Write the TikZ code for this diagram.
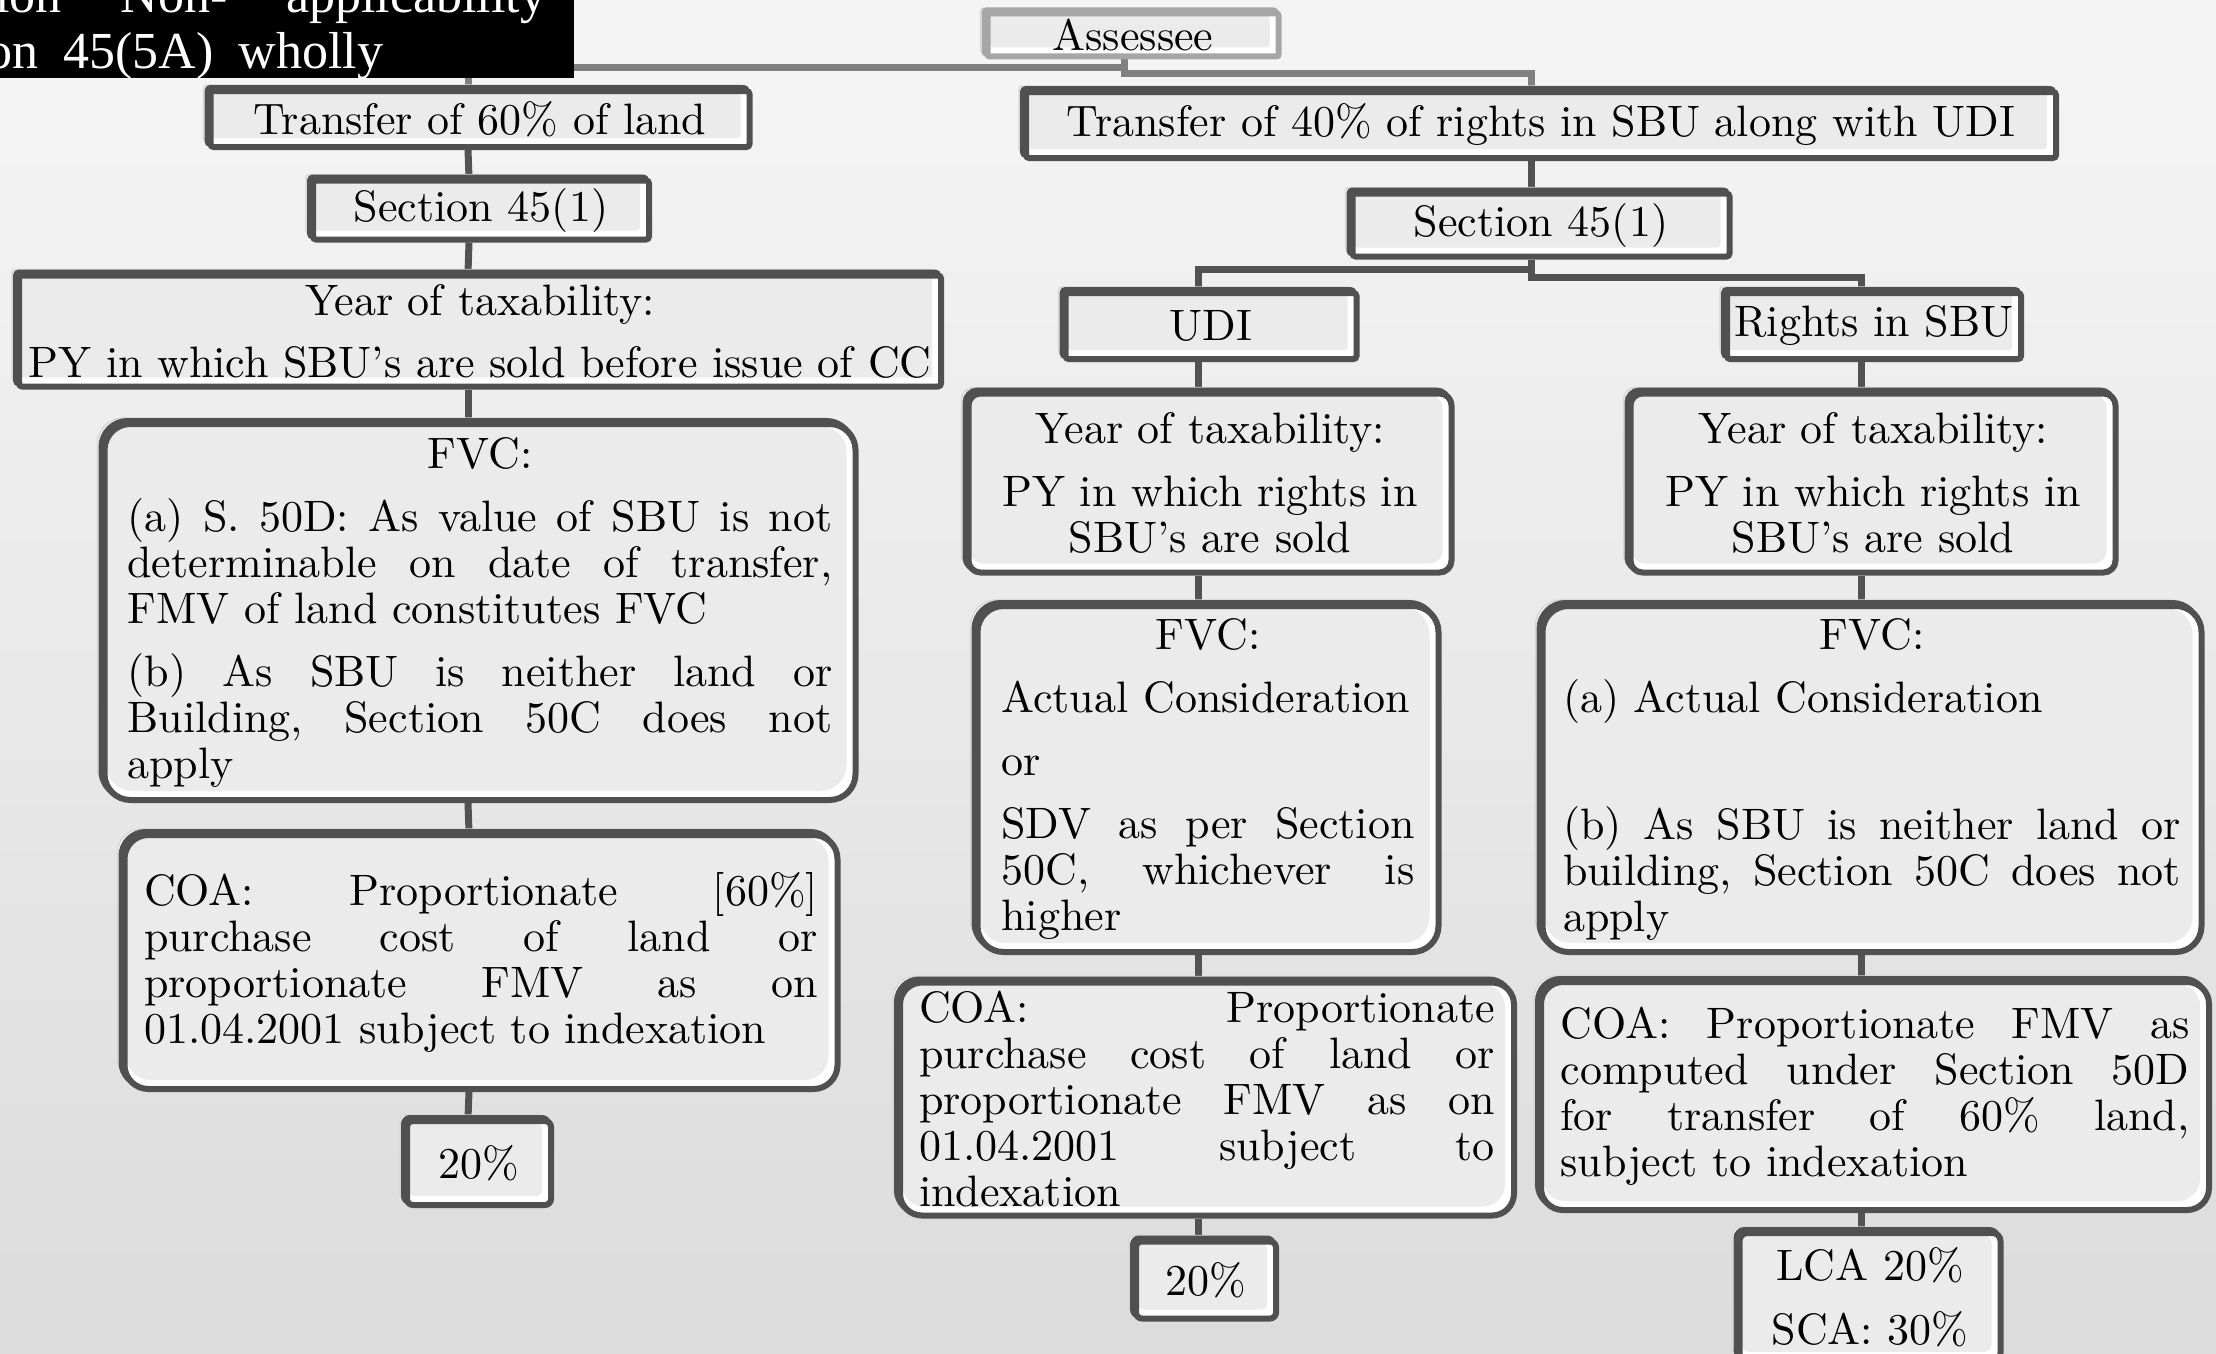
\documentclass[tikz,border=0pt]{standalone}
\usepackage{fontspec}
% 10pt design size of Latin Modern, used at every size
\setmainfont{lmroman10-regular.otf}[Ligatures=TeX]
\newfontfamily\blackfont{Liberation Serif}
\usetikzlibrary{shadows}
\pgfdeclarelayer{bg}
\pgfsetlayers{bg,main}

\definecolor{frame}{HTML}{505050}
\definecolor{aframe}{HTML}{A6A6A6}
\definecolor{boxfill}{HTML}{EBEBEB}
\definecolor{halo}{HTML}{D6D6D6}
\definecolor{connclr}{HTML}{525252}
\definecolor{aconnclr}{HTML}{808080}
\definecolor{bgtop}{HTML}{F8F8F8}
\definecolor{bgupper}{HTML}{F4F4F4}
\definecolor{bgmid}{HTML}{E9E9E9}
\definecolor{bgbot}{HTML}{CECECE}
\pgfdeclareverticalshading{bgshade}{100bp}{color(0bp)=(bgbot); color(50bp)=(bgmid); color(72bp)=(bgupper); color(100bp)=(bgtop)}

% justified and left-set lines of a fixed width
\newcommand\jline[2]{\makebox[#1][s]{#2}}
\newcommand\lline[2]{\makebox[#1][l]{#2}}
\frenchspacing

\begin{document}
\begin{tikzpicture}[x=1pt,y=-1pt,
  boxcore/.style={rectangle, inner sep=0pt, line width=6pt, fill=white,
    font=\fontsize{44}{46}\selectfont, align=center},
  tbox/.style={boxcore, draw=frame, rounded corners=#1,
    general shadow={fill=white, draw=halo, line width=1.5pt, shadow xshift=-7pt, shadow yshift=6pt},
    general shadow={fill=frame, draw=frame, line width=6pt, shadow xshift=-3pt, shadow yshift=3pt},
    path picture={\fill[boxfill, rounded corners=#1]
      ([shift={(2pt,-2pt)}]path picture bounding box.north west) rectangle
      ([shift={(-9pt,9pt)}]path picture bounding box.south east);}},
  tbox/.default=3pt,
  abox/.style={boxcore, draw=aframe, rounded corners=2pt,
    general shadow={fill=white, draw=halo, line width=1.5pt, shadow xshift=-7pt, shadow yshift=5pt},
    general shadow={fill=aframe, draw=aframe, line width=6pt, shadow xshift=-3pt, shadow yshift=3pt},
    path picture={\fill[boxfill]
      ([shift={(2pt,-2pt)}]path picture bounding box.north west) rectangle
      ([shift={(-9pt,9pt)}]path picture bounding box.south east);}},
  conn/.style={draw=connclr, line width=7pt},
  aconn/.style={draw=aconnclr, line width=7pt},
]

% background
\begin{pgfonlayer}{bg}
  \shade[shading=bgshade] (0,0) rectangle (2216,1354);
\end{pgfonlayer}
\useasboundingbox (0,0) rectangle (2216,1354);

% root
\node[abox, minimum width=291pt, minimum height=43pt] (assessee) at (1133,35) {Assessee};

% left branch
\node[tbox, minimum width=539pt, minimum height=56pt] (t60) at (480,119) {Transfer of 60\% of land};
\node[tbox, minimum width=336pt, minimum height=59pt] (s45l) at (481,210) {Section 45(1)};
\node[tbox, minimum width=922pt, minimum height=111pt] (ytl) at (480,331)
  {Year of taxability:\\[16pt] PY in which SBU’s are sold before issue of CC};
\node[tbox=26pt, minimum width=751pt, minimum height=376pt] (fvcl) at (480,612)
  {FVC:\\[17pt]
   \jline{705pt}{(a) S. 50D: As value of SBU is not}\\
   \jline{705pt}{determinable on date of transfer,}\\
   \lline{705pt}{FMV of land constitutes FVC}\\[17pt]
   \jline{705pt}{(b) As SBU is neither land or}\\
   \jline{705pt}{Building, Section 50C does not}\\
   \lline{705pt}{apply}};
\node[tbox=24pt, minimum width=713pt, minimum height=254pt] (coal) at (481,962)
  {\jline{674pt}{COA: Proportionate [60\%]}\\
   \jline{674pt}{purchase cost of land or}\\
   \jline{674pt}{proportionate FMV as on}\\
   \lline{674pt}{01.04.2001 subject to indexation}};
\node[tbox=6pt, minimum width=144pt, minimum height=84pt] (p20l) at (479,1163) {20\%};

% right branch
\node[tbox, minimum width=1030pt, minimum height=66pt] (t40) at (1541,125)
  {Transfer of 40\% of rights in SBU along with UDI};
\node[tbox, minimum width=377pt, minimum height=63pt] (s45r) at (1541,225) {Section 45(1)};

\node[tbox, minimum width=291pt, minimum height=66pt] (udi) at (1211,326) {UDI};
\node[tbox=12pt, minimum width=483pt, minimum height=179pt] (ytu) at (1210,483)
  {Year of taxability:\\[17pt] PY in which rights in\\ SBU’s are sold};
\node[tbox=26pt, minimum width=461pt, minimum height=346pt] (fvcu) at (1208,779)
  {FVC:\\[17pt]
   \lline{413pt}{Actual Consideration}\\[17pt]
   \lline{413pt}{or}\\[17pt]
   \jline{413pt}{SDV as per Section}\\
   \jline{413pt}{50C, whichever is}\\
   \lline{413pt}{higher}};
\node[tbox=22pt, minimum width=614pt, minimum height=233pt] (coau) at (1207,1099)
  {\jline{576pt}{COA: Proportionate}\\
   \jline{576pt}{purchase cost of land or}\\
   \jline{576pt}{proportionate FMV as on}\\
   \jline{576pt}{01.04.2001 subject to}\\
   \lline{576pt}{indexation}};
\node[tbox=6pt, minimum width=140pt, minimum height=77pt] (p20u) at (1206,1280) {20\%};

\node[tbox, minimum width=294pt, minimum height=66pt] (rsbu) at (1874,326) {Rights in SBU};
\node[tbox=12pt, minimum width=485pt, minimum height=179pt] (yts) at (1873,483)
  {Year of taxability:\\[17pt] PY in which rights in\\ SBU’s are sold};
\node[tbox=26pt, minimum width=659pt, minimum height=346pt] (fvcs) at (1872,779)
  {FVC:\\[17pt]
   \lline{618pt}{(a) Actual Consideration}\\[81pt]
   \jline{618pt}{(b) As SBU is neither land or}\\
   \jline{618pt}{building, Section 50C does not}\\
   \lline{618pt}{apply}};
\node[tbox=22pt, minimum width=668pt, minimum height=228pt] (coas) at (1875,1096)
  {\jline{629pt}{COA: Proportionate FMV as}\\
   \jline{629pt}{computed under Section 50D}\\
   \jline{629pt}{for transfer of 60\% land,}\\
   \lline{629pt}{subject to indexation}};
\node[tbox=8pt, minimum width=261pt, minimum height=128pt] (lca) at (1870,1297)
  {LCA 20\%\\[18pt] SCA: 30\%};

% connectors, kept behind the boxes
\begin{pgfonlayer}{bg}
  \draw[aconn] ([xshift=-9pt]assessee.south) -- ++(0,8) -| ([xshift=-12pt]t60.north);
  \draw[aconn] ([xshift=-9pt]assessee.south) -- ++(0,14) -| ([xshift=-10pt]t40.north);

  \draw[conn] ([xshift=-12pt]t60.south) -- ([xshift=-12pt]s45l.north);
  \draw[conn] ([xshift=-12pt]s45l.south) -- ([xshift=-12pt]ytl.north);
  \draw[conn] ([xshift=-12pt]ytl.south) -- ([xshift=-12pt]fvcl.north);
  \draw[conn] ([xshift=-12pt]fvcl.south) -- ([xshift=-12pt]coal.north);
  \draw[conn] ([xshift=-12pt]coal.south) -- ([xshift=-11pt]p20l.north);

  \draw[conn] ([xshift=-10pt]t40.south) -- ([xshift=-10pt]s45r.north);
  \draw[conn] ([xshift=-10pt]s45r.south) -- ++(0,10) -| ([xshift=-13pt]udi.north);
  \draw[conn] ([xshift=-10pt]s45r.south) -- ++(0,18) -| ([xshift=-13pt]rsbu.north);

  \draw[conn] ([xshift=-13pt]udi.south) -- ([xshift=-12pt]ytu.north);
  \draw[conn] ([xshift=-12pt]ytu.south) -- ([xshift=-10pt]fvcu.north);
  \draw[conn] ([xshift=-10pt]fvcu.south) -- ([xshift=-9pt]coau.north);
  \draw[conn] ([xshift=-9pt]coau.south) -- ([xshift=-8pt]p20u.north);

  \draw[conn] ([xshift=-13pt]rsbu.south) -- ([xshift=-12pt]yts.north);
  \draw[conn] ([xshift=-12pt]yts.south) -- ([xshift=-11pt]fvcs.north);
  \draw[conn] ([xshift=-11pt]fvcs.south) -- ([xshift=-14pt]coas.north);
  \draw[conn] ([xshift=-14pt]coas.south) -- ([xshift=-9pt]lca.north);
\end{pgfonlayer}

% black caption panel in the upper left corner
\fill[black] (0,0) rectangle (574,78);
\node[anchor=base west, inner sep=0pt, text=white,
      font=\blackfont\fontsize{52}{54}\selectfont] (cap1) at (-5,13)
  {\makebox[551pt][s]{ion Non- applicability}};
\node[anchor=base west, inner sep=0pt, text=white,
      font=\blackfont\fontsize{52}{54}\selectfont] (cap2) at (-14,68)
  {\makebox[397pt][s]{on 45(5A) wholly}};
\end{tikzpicture}
\end{document}
